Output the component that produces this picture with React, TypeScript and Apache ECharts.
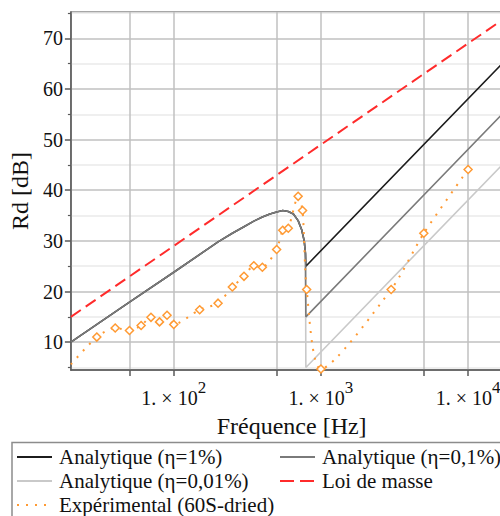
import React, { useEffect, useRef } from 'react';
import * as echarts from 'echarts';

const FONT = 'Liberation Serif, serif';

// Analytic curves: shared part below the coincidence frequency
const analyticFreq = [20, 50, 100, 200, 250, 300, 350, 400, 450, 500, 550, 600, 650, 700, 740, 770, 785];
const analyticLow = [10.0, 17.9, 23.8, 29.8, 31.5, 32.8, 33.9, 34.7, 35.3, 35.7, 36.0, 35.8, 35.3, 34.0, 32.2, 30.0, 27.5];
// Above coincidence
const highFreq = [790, 20000];
const eta1High = [25, 67.1];
const eta01High = [15, 57.1];
const eta001High = [5, 47.1];

// Mass law
const massFreq = [20, 100, 1000, 10000, 20000];
const massLaw = [15, 29, 49, 69, 75];

// Experimental (60S-dried)
const expFreq = [20, 30, 40, 50, 60, 70, 80, 90, 100, 150, 200, 250, 300, 350, 400, 500, 550, 600, 700, 750, 800, 1000, 3000, 5000, 10000];
const expValues = [5.6, 11.0, 12.8, 12.3, 13.3, 14.9, 14.0, 15.3, 13.5, 16.4, 17.7, 20.9, 23.0, 25.1, 24.8, 28.3, 32.1, 32.5, 38.8, 36.0, 20.4, 4.7, 20.4, 31.5, 44.1];

const xMajorTicks = [50, 100, 500, 1000, 5000, 10000];
const xLabels = [100, 1000, 10000];
const yMajor = [10, 20, 30, 40, 50, 60, 70];
const yMinor = [5, 15, 25, 35, 45, 55, 65, 75];

const names = [
  'Analytique (η=1%)',
  'Analytique (η=0,1%)',
  'Analytique (η=0,01%)',
  'Loi de masse',
  'Expérimental (60S-dried)',
];

const C_BLACK = '#1c1c1c';
const C_DARK = '#7a7a7a';
const C_LIGHT = '#c9c9c9';
const C_RED = '#ff2b2b';
const C_ORANGE = '#ff9a33';

function App() {
  const ref = useRef<HTMLDivElement>(null);
  useEffect(() => {
    if (!ref.current) return;
    const chart = echarts.init(ref.current, undefined, { renderer: 'svg' });

    const low = analyticFreq.map((f, i) => [f, analyticLow[i]]);
    const high = (vals: number[]) => highFreq.map((f, i) => [f, vals[i]]);

    const legendItems = [
      { name: names[0], color: C_BLACK, dash: null as any, col: 0, row: 0 },
      { name: names[1], color: C_DARK, dash: null as any, col: 1, row: 0 },
      { name: names[2], color: C_LIGHT, dash: null as any, col: 0, row: 1 },
      { name: names[3], color: C_RED, dash: [14, 6], col: 1, row: 1 },
      { name: names[4], color: C_ORANGE, dash: [2, 7], col: 0, row: 2 },
    ];
    const colX = [17, 280];
    const rowY = [457, 481, 505];
    const legendGraphics: any[] = [
      {
        type: 'rect',
        shape: { x: 12, y: 442.5, width: 520, height: 120 },
        style: { fill: 'none', stroke: '#8c8c8c', lineWidth: 1.5 },
        z: 10,
      },
    ];
    legendItems.forEach((it) => {
      const x = colX[it.col];
      const y = rowY[it.row];
      legendGraphics.push({
        type: 'line',
        shape: { x1: x, y1: y, x2: x + 35, y2: y },
        style: { stroke: it.color, lineWidth: 2, lineDash: it.dash || undefined },
        z: 10,
      });
      legendGraphics.push({
        type: 'text',
        x: x + 42,
        y: y,
        style: {
          text: it.name,
          fontSize: 21,
          fontFamily: FONT,
          fill: '#111',
          verticalAlign: 'middle',
          textVerticalAlign: 'middle',
        },
        z: 10,
      });
    });

    chart.setOption({
      animation: false,
      backgroundColor: '#ffffff',
      textStyle: { fontFamily: FONT },
      grid: {
        left: 67,
        top: 12,
        width: 445.4,
        height: 358,
        show: true,
        borderColor: '#8a8a8a',
        borderWidth: 1.5,
        backgroundColor: 'transparent',
      },
      xAxis: {
        type: 'log',
        logBase: 10,
        min: 20,
        max: 20000,
        name: 'Fréquence [Hz]',
        nameLocation: 'middle',
        nameGap: 44,
        nameTextStyle: { fontSize: 24, fontFamily: FONT, color: '#111' },
        axisLine: { show: true, lineStyle: { color: '#5a5a5a', width: 1.5 } },
        axisTick: { show: true, customValues: xMajorTicks, length: 6, inside: false, lineStyle: { color: '#5a5a5a', width: 1.5 } },
        splitLine: { show: true, lineStyle: { color: '#c0c0c0', width: 1.5 } },
        minorTick: { show: false },
        axisLabel: {
          customValues: xLabels,
          margin: 9,
          formatter: (v: number) => '{b|1. × 10}{s|' + Math.round(Math.log10(v)) + '}',
          rich: {
            b: { fontSize: 20, fontFamily: FONT, color: '#111', verticalAlign: 'bottom', lineHeight: 29 },
            s: { fontSize: 17, fontFamily: FONT, color: '#111', verticalAlign: 'top', lineHeight: 17 },
          },
        },
      },
      yAxis: [
        {
          type: 'value',
          position: 'left',
          min: 4.5,
          max: 75.2,
          name: 'Rd [dB]',
          nameLocation: 'middle',
          nameGap: 31,
          nameTextStyle: { fontSize: 24, fontFamily: FONT, color: '#111' },
          axisLine: { show: true, lineStyle: { color: '#5a5a5a', width: 1.5 } },
          axisTick: { show: true, customValues: yMajor, length: 6, inside: false, lineStyle: { color: '#5a5a5a', width: 1.5 } },
          axisLabel: { customValues: yMajor, fontSize: 20, fontFamily: FONT, color: '#111', margin: 8 },
          splitLine: { show: true, lineStyle: { color: '#c0c0c0', width: 1.5 } },
        },
        {
          type: 'value',
          position: 'left',
          min: 4.5,
          max: 75.2,
          axisLine: { show: false },
          axisTick: { show: true, customValues: yMinor, length: 3, inside: false, lineStyle: { color: '#5a5a5a', width: 1.2 } },
          axisLabel: { show: false, customValues: yMinor },
          splitLine: { show: true, lineStyle: { color: '#eaeaea', width: 1.5 } },
        },
      ],
      graphic: legendGraphics,
      series: [
        {
          name: names[2],
          type: 'line',
          showSymbol: false,
          symbol: 'none',
          data: low.concat(high(eta001High)),
          lineStyle: { color: C_LIGHT, width: 1.6 },
          z: 2,
        },
        {
          name: names[0],
          type: 'line',
          showSymbol: false,
          symbol: 'none',
          data: low.concat(high(eta1High)),
          lineStyle: { color: C_BLACK, width: 1.6 },
          z: 3,
        },
        {
          name: names[1],
          type: 'line',
          showSymbol: false,
          symbol: 'none',
          data: low.concat(high(eta01High)),
          lineStyle: { color: C_DARK, width: 1.6 },
          z: 4,
        },
        {
          name: names[3],
          type: 'line',
          showSymbol: false,
          symbol: 'none',
          data: massFreq.map((f, i) => [f, massLaw[i]]),
          lineStyle: { color: C_RED, width: 2, type: [12, 6] },
          z: 5,
        },
        {
          name: names[4],
          type: 'line',
          smooth: 0.25,
          symbol: 'diamond',
          symbolSize: 8,
          showSymbol: true,
          data: expFreq.map((f, i) =>
            i === 0 ? { value: [f, expValues[i]], symbol: 'none' } : [f, expValues[i]]
          ),
          lineStyle: { color: C_ORANGE, width: 2, type: [2, 7] },
          itemStyle: { color: '#ffffff', borderColor: C_ORANGE, borderWidth: 1.5 },
          z: 6,
        },
      ],
    });
    return () => chart.dispose();
  }, []);

  return (
    <div style={{ position: 'fixed', left: 0, top: 0, width: 500, height: 516, overflow: 'hidden', background: '#fff' }}>
      <div ref={ref} style={{ width: 540, height: 540 }} />
    </div>
  );
}

export default App;
